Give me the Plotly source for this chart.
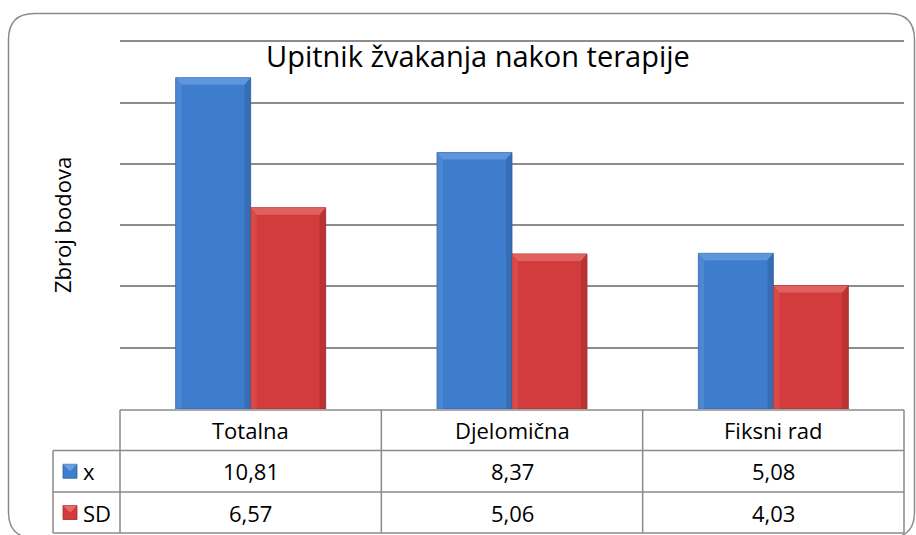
import plotly.graph_objects as go

# --- data -------------------------------------------------------------
categories = ["Totalna", "Djelomična", "Fiksni rad"]
series_names = ["x", "SD"]
mean_values = [10.81, 8.37, 5.08]
sd_values = [6.57, 5.06, 4.03]
value_labels = {
    "x": ["10,81", "8,37", "5,08"],
    "SD": ["6,57", "5,06", "4,03"],
}
y_ticks = [0, 2, 4, 6, 8, 10, 12]
y_max = 12.04  # a hair above the last gridline so it is drawn in full

# --- layout geometry (pixels) ----------------------------------------
W, H = 916, 535
ML, MR, MT, MB = 120, 12, 40, 126
PW, PH = W - ML - MR, H - MT - MB
FONT = "Open Sans"

BLUE, BLUE_LT, BLUE_DK = "#3e7dcd", "#6a9fe0", "#2d5f9f"
RED, RED_LT, RED_DK = "#d33c3c", "#e56c6c", "#a52a2a"
GRID = "#8c8c8c"


def px_x(px):
    return (px - ML) / PW


def px_y(py):
    return (H - MB - py) / PH


fig = go.Figure()
bargap = 0.426
bw = (1 - bargap) / 2
series = [("x", mean_values, BLUE, BLUE_LT, BLUE_DK),
          ("SD", sd_values, RED, RED_LT, RED_DK)]

for name, vals, col, lt, dk in series:
    fig.add_trace(go.Bar(
        name=name, x=categories, y=vals,
        marker=dict(color=col, line=dict(color=dk, width=0.8)),
        hoverinfo="x+y", showlegend=False,
    ))

fig.update_layout(
    barmode="group", bargap=bargap, bargroupgap=0,
    width=W, height=H,
    margin=dict(l=ML, r=MR, t=MT, b=MB),
    paper_bgcolor="white", plot_bgcolor="white",
    font=dict(family=FONT, color="black"),
    showlegend=False,
    xaxis=dict(showticklabels=False, showgrid=False, zeroline=False,
               showline=False, ticks=""),
    yaxis=dict(range=[0, y_max], tickvals=y_ticks, showticklabels=False,
               showgrid=True, gridcolor=GRID, gridwidth=1.5,
               zeroline=False, showline=False, ticks=""),
)

shapes = []

# bevelled faces on each bar
ppu_y = PH / float(y_max)
ppu_x = PW / len(categories)
bev_y = 7 / ppu_y
bev_x = 6 / ppu_x
for si, (name, vals, col, lt, dk) in enumerate(series):
    for ci, v in enumerate(vals):
        x0 = ci - bw + si * bw
        x1 = x0 + bw
        # top bevel
        shapes.append(dict(type="path", xref="x", yref="y", layer="above",
                           path=f"M{x0},{v} L{x1},{v} L{x1-bev_x},{v-bev_y} L{x0+bev_x},{v-bev_y} Z",
                           fillcolor=lt, line=dict(width=0), opacity=0.75))
        # left bevel
        shapes.append(dict(type="path", xref="x", yref="y", layer="above",
                           path=f"M{x0},{v} L{x0+bev_x},{v-bev_y} L{x0+bev_x},0 L{x0},0 Z",
                           fillcolor=lt, line=dict(width=0), opacity=0.3))
        # right bevel
        shapes.append(dict(type="path", xref="x", yref="y", layer="above",
                           path=f"M{x1},{v} L{x1-bev_x},{v-bev_y} L{x1-bev_x},0 L{x1},0 Z",
                           fillcolor=dk, line=dict(width=0), opacity=0.5))

# outer rounded frame
fx0, fx1, fy0, fy1, r = 8.5, 914.5, 13.5, 538, 26
frame = (f"M{px_x(fx0)},{px_y(fy0 + r)} Q{px_x(fx0)},{px_y(fy0)} {px_x(fx0 + r)},{px_y(fy0)} "
         f"L{px_x(fx1 - r)},{px_y(fy0)} Q{px_x(fx1)},{px_y(fy0)} {px_x(fx1)},{px_y(fy0 + r)} "
         f"L{px_x(fx1)},{px_y(fy1 - r)} Q{px_x(fx1)},{px_y(fy1)} {px_x(fx1 - r)},{px_y(fy1)} "
         f"L{px_x(fx0 + r)},{px_y(fy1)} Q{px_x(fx0)},{px_y(fy1)} {px_x(fx0)},{px_y(fy1 - r)} Z")
shapes.append(dict(type="path", xref="paper", yref="paper", path=frame,
                   line=dict(color="#8a8a8a", width=1.5), layer="below"))

# data table grid
TL = dict(color="#8a8a8a", width=1.5)
rows_y = [410, 450.5, 492, 533]
col_x = [ML + i * ppu_x for i in range(len(categories) + 1)]
key_x0 = 53
shapes.append(dict(type="line", xref="paper", yref="paper",
                   x0=px_x(col_x[0]), x1=px_x(col_x[-1]), y0=px_y(rows_y[0]), y1=px_y(rows_y[0]), line=TL))
for yy in rows_y[1:]:
    shapes.append(dict(type="line", xref="paper", yref="paper",
                       x0=px_x(key_x0), x1=px_x(col_x[-1]), y0=px_y(yy), y1=px_y(yy), line=TL))
for xx in col_x:
    shapes.append(dict(type="line", xref="paper", yref="paper",
                       x0=px_x(xx), x1=px_x(xx), y0=px_y(rows_y[0]), y1=px_y(rows_y[-1]), line=TL))
shapes.append(dict(type="line", xref="paper", yref="paper",
                   x0=px_x(key_x0), x1=px_x(key_x0), y0=px_y(rows_y[1]), y1=px_y(rows_y[-1]), line=TL))

TXT = 22
annotations = []
for ci, cat in enumerate(categories):
    annotations.append(dict(x=ci, xref="x", y=px_y((rows_y[0] + rows_y[1]) / 2), yref="paper",
                            xanchor="center", yanchor="middle",
                            text=cat, showarrow=False, font=dict(size=TXT, family=FONT)))
for ri, (name, vals, col, lt, dk) in enumerate(series):
    yc = (rows_y[ri + 1] + rows_y[ri + 2]) / 2
    for ci in range(len(categories)):
        annotations.append(dict(x=ci, xref="x", y=px_y(yc), yref="paper",
                                xanchor="center", yanchor="middle",
                                text=value_labels[name][ci], showarrow=False,
                                font=dict(size=TXT, family=FONT)))
    # legend key square
    kx0, ky0 = 63, yc - 7
    shapes.append(dict(type="rect", xref="paper", yref="paper",
                       x0=px_x(kx0), x1=px_x(kx0 + 14), y0=px_y(ky0 + 14), y1=px_y(ky0),
                       fillcolor=col, line=dict(color=dk, width=0.8)))
    shapes.append(dict(type="path", xref="paper", yref="paper",
                       path=f"M{px_x(kx0)},{px_y(ky0)} L{px_x(kx0 + 14)},{px_y(ky0)} L{px_x(kx0 + 7)},{px_y(ky0 + 7)} Z",
                       fillcolor=lt, line=dict(width=0)))
    annotations.append(dict(x=px_x(81), xref="paper", y=px_y(yc), yref="paper",
                            text=name, showarrow=False, xanchor="left", yanchor="middle",
                            font=dict(size=TXT, family=FONT)))

# chart title and axis title
annotations.append(dict(x=px_x(478), xref="paper", y=px_y(55), yref="paper",
                        xanchor="center", yanchor="middle",
                        text="Upitnik žvakanja nakon terapije", showarrow=False,
                        font=dict(size=29, family=FONT)))
annotations.append(dict(x=px_x(62), xref="paper", y=px_y(225), yref="paper",
                        xanchor="center", yanchor="middle",
                        text="Zbroj bodova", showarrow=False, textangle=-90,
                        font=dict(size=22, family=FONT)))

fig.update_layout(shapes=shapes, annotations=annotations)
fig.write_html("out.html")
